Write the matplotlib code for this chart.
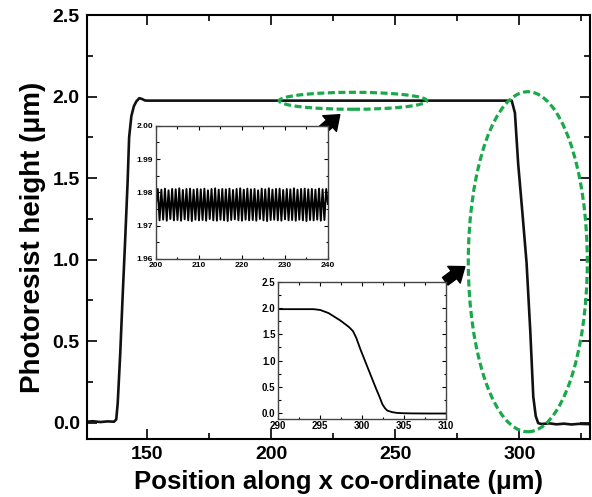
import numpy as np
import matplotlib
matplotlib.use('Agg')
import matplotlib.pyplot as plt
from matplotlib.patches import Ellipse
from matplotlib.ticker import MultipleLocator, FormatStrFormatter

plt.rcParams['font.family'] = ['Liberation Sans', 'DejaVu Sans']
plt.rcParams['font.weight'] = 'bold'

# full profile scan
prof_x = [125.5, 128, 131, 134, 136.5, 137.4, 138, 139, 140, 141, 142, 142.6, 143.5,
          144.5, 145.5, 146.7, 147.8, 149, 150, 200, 250, 290, 296.9, 298.2, 299.5,
          301.2, 302.9, 304.4, 305.6, 306.6, 307.6, 309, 312, 315, 318, 321, 324, 328.5]
prof_y = [0.006, 0.009, 0.004, 0.008, 0.006, 0.02, 0.12, 0.42, 0.78, 1.12, 1.48, 1.75, 1.88,
          1.94, 1.97, 1.99, 1.985, 1.976, 1.975, 1.975, 1.975, 1.975, 1.975, 1.9, 1.59,
          1.29, 0.98, 0.56, 0.16, 0.04, -0.003, -0.008, -0.004, -0.01, -0.006, -0.011, -0.007, -0.009]

# plateau ripple (200-240 um)
ripple_y = [1.9765, 1.9810, 1.9716, 1.9808, 1.9718, 1.9811, 1.9715, 1.9806, 1.9720, 1.9810, 1.9716, 1.9809,
            1.9717, 1.9812, 1.9715, 1.9807, 1.9719, 1.9810, 1.9716, 1.9811, 1.9714, 1.9808, 1.9718, 1.9810,
            1.9716, 1.9809, 1.9717, 1.9811, 1.9715, 1.9806, 1.9720, 1.9810, 1.9716, 1.9812, 1.9715, 1.9808,
            1.9718, 1.9810, 1.9716, 1.9809, 1.9714, 1.9811, 1.9717, 1.9807, 1.9719, 1.9810, 1.9716, 1.9812,
            1.9715, 1.9808, 1.9718, 1.9811, 1.9716, 1.9809, 1.9717, 1.9810, 1.9715, 1.9806, 1.9720, 1.9811,
            1.9716, 1.9809, 1.9714, 1.9812, 1.9717, 1.9808, 1.9718, 1.9810, 1.9716, 1.9811, 1.9715, 1.9807,
            1.9719, 1.9810, 1.9716, 1.9809, 1.9717, 1.9812, 1.9715, 1.9808, 1.9718, 1.9810, 1.9716, 1.9811,
            1.9714, 1.9809, 1.9717, 1.9810, 1.9716, 1.9808, 1.9718, 1.9811, 1.9715, 1.9809, 1.9717, 1.9810,
            1.9765]
ripple_x = np.linspace(200, 240, len(ripple_y))

# falling edge (290-310 um)
edge_x = [290, 292, 294.2, 295, 296, 296.7, 297.4, 297.9, 298.4, 298.9, 299.3, 299.8, 300.6,
          301.6, 302.1, 302.4, 302.7, 303.0, 303.6, 304.2, 305, 306, 308, 310]
edge_y = [1.975, 1.975, 1.975, 1.96, 1.9, 1.83, 1.76, 1.70, 1.64, 1.56, 1.43, 1.21, 0.89,
          0.49, 0.3, 0.175, 0.1, 0.05, 0.02, 0.006, 0.0, -0.003, -0.005, -0.005]

green = '#19a94b'

fig = plt.figure(figsize=(5.92, 4.97), dpi=100)
ax = fig.add_axes([0.1465, 0.1167, 0.8502, 0.8531])
ax.plot(prof_x, prof_y, color='#111111', lw=1.9)
ax.set_xlim(125.5, 328.5)
ax.set_ylim(-0.1, 2.5)
ax.xaxis.set_major_locator(MultipleLocator(50))
ax.xaxis.set_minor_locator(MultipleLocator(25))
ax.yaxis.set_major_locator(MultipleLocator(0.5))
ax.yaxis.set_minor_locator(MultipleLocator(0.25))
ax.yaxis.set_major_formatter(FormatStrFormatter('%.1f'))
ax.tick_params(which='both', direction='in', top=True, right=True, width=1.2, labelsize=14, pad=5)
ax.tick_params(which='major', length=7)
ax.tick_params(which='minor', length=4)
for s in ax.spines.values():
    s.set_linewidth(1.5)
ax.set_xlabel('Position along x co-ordinate (μm)', fontsize=18.5, fontweight='bold', labelpad=5)
ax.set_ylabel('Photoresist height (μm)', fontsize=20, fontweight='bold')
ax.yaxis.set_label_coords(-0.081, 0.475)

# dashed ellipses marking the zoomed regions
ax.add_patch(Ellipse((232.9, 1.974), 59.5, 0.104, fill=False, ec=green, lw=2.3,
                     ls=(0, (2.2, 1.1)), clip_on=False, zorder=5))
ax.add_patch(Ellipse((303.4, 0.987), 48.0, 2.085, fill=False, ec=green, lw=2.3,
                     ls=(0, (2.2, 1.1)), clip_on=False, zorder=5))

arrow = dict(arrowstyle='simple,tail_width=0.45,head_width=1.0,head_length=0.65',
             fc='black', ec='black', mutation_scale=15)
ax.annotate('', xy=(228.4, 1.90), xytext=(219.6, 1.783), arrowprops=arrow)
ax.annotate('', xy=(278.9, 0.967), xytext=(269.2, 0.857), arrowprops=arrow)

# inset: plateau ripple
ins1 = fig.add_axes([0.2635, 0.4789, 0.2905, 0.2682])
ins1.plot(ripple_x, ripple_y, color='black', lw=1.4)
ins1.set_xlim(200, 240)
ins1.set_ylim(1.96, 2.00)
ins1.xaxis.set_major_locator(MultipleLocator(10))
ins1.xaxis.set_minor_locator(MultipleLocator(5))
ins1.yaxis.set_major_locator(MultipleLocator(0.01))
ins1.yaxis.set_minor_locator(MultipleLocator(0.005))
ins1.yaxis.set_major_formatter(FormatStrFormatter('%.2f'))
ins1.tick_params(which='both', direction='in', top=True, right=True, width=0.8,
                 labelsize=6, pad=2)
ins1.tick_params(which='major', length=3)
ins1.tick_params(which='minor', length=1.8)

# inset: falling edge
ins2 = fig.add_axes([0.4701, 0.1579, 0.2833, 0.2757])
ins2.plot(edge_x, edge_y, color='black', lw=1.3)
ins2.set_xlim(290, 310)
ins2.set_ylim(-0.1, 2.5)
ins2.xaxis.set_major_locator(MultipleLocator(5))
ins2.xaxis.set_minor_locator(MultipleLocator(2.5))
ins2.yaxis.set_major_locator(MultipleLocator(0.5))
ins2.yaxis.set_minor_locator(MultipleLocator(0.25))
ins2.yaxis.set_major_formatter(FormatStrFormatter('%.1f'))
ins2.tick_params(which='both', direction='in', top=True, right=True, width=0.8,
                 labelsize=7, pad=2)
ins2.tick_params(which='major', length=3)
ins2.tick_params(which='minor', length=1.8)

for a in (ins1, ins2):
    for s in a.spines.values():
        s.set_linewidth(1.0)
        s.set_color('#444444')

fig.savefig('out.png', dpi=100)
